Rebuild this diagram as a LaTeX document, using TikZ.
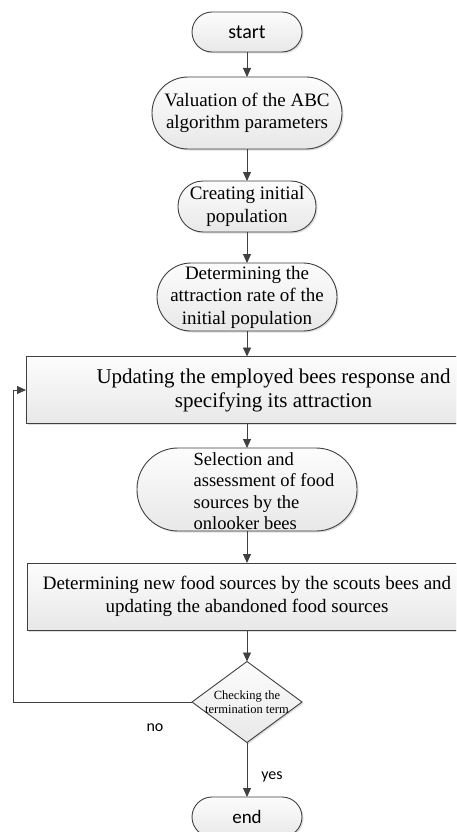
\documentclass[tikz,border=0pt]{standalone}
\usepackage{fontspec}
\setmainfont{Liberation Serif}
\newfontfamily\carl{Carlito}
\usetikzlibrary{shapes.geometric,arrows.meta,shadows}
\begin{document}
\begin{tikzpicture}[x=1pt,y=1pt,
  every node/.style={inner sep=0pt, outer sep=0pt},
  line/.style={draw=black!75, line width=0.9pt},
  arr/.style={line, -{Triangle[length=9pt,width=8pt]}},
  boxfill/.style={line, top color=black!1, bottom color=black!9,
    drop shadow={shadow xshift=1.5pt, shadow yshift=-1.5pt, fill=black!25, opacity=0.5}},
  term/.style={boxfill, rectangle, rounded corners=20pt, minimum height=40pt, minimum width=110pt,
    font=\carl\fontsize{20}{24}\selectfont},
  rr/.style={boxfill, rectangle, align=center, font=\fontsize{19}{22.5}\selectfont},
  rect/.style={boxfill, rectangle, align=center},
  lab/.style={font=\carl\fontsize{16}{19}\selectfont, text=black}
]
\clip (0,0) rectangle (456,-832);
\fill[white] (0,0) rectangle (456,-832);

\node[term] (start) at (247,-32) {start};
\node[rr, rounded corners=36pt, minimum width=190pt, minimum height=72pt] (val) at (247,-113)
  {Valuation of the ABC\\algorithm parameters};
\node[rr, rounded corners=25pt, minimum width=138pt, minimum height=51pt] (create) at (247,-206.5)
  {Creating initial\\population};
\node[rr, rounded corners=34pt, minimum width=180pt, minimum height=68pt] (det) at (247,-297)
  {Determining the\\attraction rate of the\\initial population};
\node[rect, minimum width=495pt, minimum height=67pt, font=\fontsize{21}{24}\selectfont] (upd) at (273.5,-390)
  {Updating the employed bees response and\\specifying its attraction};
\node[rr, rounded corners=41pt, minimum width=220pt, minimum height=83pt,
  label={[align=left, font=\fontsize{18.5}{21.5}\selectfont, xshift=17pt, yshift=-1.5pt]center:Selection and\\assessment of food\\sources by the\\onlooker bees}] (sel) at (247,-489.5) {};
\node[rect, minimum width=440pt, minimum height=67pt, font=\fontsize{19}{22.5}\selectfont] (new) at (247,-596.5)
  {Determining new food sources by the scouts bees and\\updating the abandoned food sources};
\node[boxfill, diamond, minimum width=110pt, minimum height=81pt,
  label={[align=center, font=\fontsize{12.5}{14}\selectfont]center:Checking the\\termination term}] (dia) at (247,-702) {};
\node[term, font=\carl\fontsize{19}{23}\selectfont] (end) at (247,-817) {end};

\coordinate (fb) at (13,-702);

\draw[arr] (start) -- (val);
\draw[arr] (val) -- (create);
\draw[arr] (create) -- (det);
\draw[arr] (det.south) -- (det.south |- upd.north);
\draw[arr] (sel.north |- upd.south) -- (sel.north);
\draw[arr] (sel) -- (new);
\draw[arr] (new) -- (dia);
\draw[arr] (dia) -- (end);
\draw[arr] (dia.west) -- (fb) |- (upd.west);

\node[lab] (no) at (155,-728) {no};
\node[lab] (yes) at (272,-777) {yes};
\end{tikzpicture}
\end{document}
